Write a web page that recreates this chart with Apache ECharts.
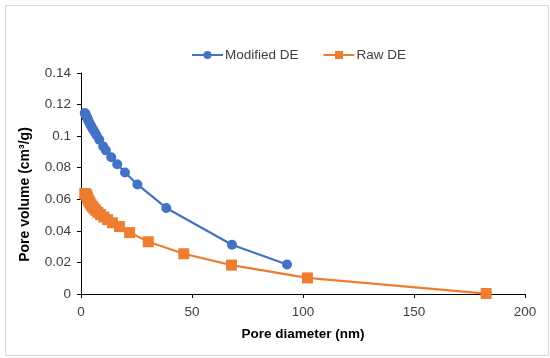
<!DOCTYPE html>
<html>
<head>
<meta charset="utf-8">
<script src="https://cdn.jsdelivr.net/npm/echarts@6/dist/echarts.min.js"></script>
<style>html,body{margin:0;padding:0;background:#fff;}#c{width:550px;height:358px;}</style>
</head>
<body>
<div id="c"></div>
<script>
var modifiedX = [1.7, 1.9, 2.1, 2.3, 2.5, 2.7, 3.0, 3.3, 3.6, 4.0, 4.4, 4.9, 5.5, 6.2, 7.0, 8.2, 10.0, 11.2, 13.6, 16.3, 19.8, 25.4, 38.4, 68.0, 92.8];
var modifiedY = [0.1147, 0.1141, 0.1135, 0.1129, 0.1123, 0.1117, 0.1108, 0.1099, 0.1090, 0.1079, 0.1068, 0.1055, 0.1040, 0.1024, 0.1006, 0.0978, 0.0935, 0.0910, 0.0866, 0.0822, 0.0770, 0.0694, 0.0545, 0.0312, 0.0187];
var rawX = [1.7, 2.0, 2.3, 2.6, 2.9, 3.2, 3.6, 4.0, 4.5, 5.1, 5.8, 6.6, 7.6, 8.8, 10.3, 12.0, 14.2, 17.3, 21.9, 30.3, 46.3, 67.8, 102.0, 182.5];
var rawY = [0.0636, 0.0634, 0.0630, 0.0622, 0.0612, 0.0600, 0.0588, 0.0577, 0.0566, 0.0555, 0.0543, 0.0531, 0.0517, 0.0503, 0.0488, 0.0471, 0.0451, 0.0427, 0.0389, 0.0331, 0.0255, 0.0183, 0.0102, 0.0003];
var seriesNames = ['Modified DE', 'Raw DE'];
var xTitle = 'Pore diameter (nm)';
var yTitle = 'Pore volume (cm³/g)';

function pairs(xs, ys) { return xs.map(function (x, i) { return [x, ys[i]]; }); }

var chart = echarts.init(document.getElementById('c'), null, { renderer: 'canvas' });
var font = 'Liberation Sans';
chart.setOption({
  animation: false,
  backgroundColor: '#fff',
  graphic: [{
    type: 'rect', left: 3, top: 3, shape: { width: 543, height: 350 },
    style: { fill: 'none', stroke: '#d9d9d9', lineWidth: 1 }, silent: true
  }],
  legend: {
    top: 43, left: 186,
    itemWidth: 31, itemHeight: 10, itemGap: 24,
    textStyle: { fontFamily: font, fontSize: 13.5, color: '#404040', padding: [0, 0, 0, -3] },
    data: seriesNames
  },
  grid: { left: 81, right: 25, top: 73, bottom: 64 },
  xAxis: {
    type: 'value', min: 0, max: 200, interval: 50,
    name: xTitle, nameLocation: 'middle', nameGap: 33,
    nameTextStyle: { fontFamily: font, fontSize: 13.5, fontWeight: 'bold', color: '#000' },
    axisLine: { lineStyle: { color: '#000', width: 1 } },
    axisTick: { show: true, length: 4, lineStyle: { color: '#000' } },
    axisLabel: { fontFamily: font, fontSize: 13.5, color: '#404040', margin: 11 },
    splitLine: { show: false }
  },
  yAxis: {
    type: 'value', min: 0, max: 0.14, interval: 0.02,
    name: yTitle, nameLocation: 'middle', nameGap: 49, nameRotate: 90,
    nameTextStyle: { fontFamily: font, fontSize: 14, fontWeight: 'bold', color: '#000', padding: [0, 22, 0, 0] },
    axisLine: { show: true, lineStyle: { color: '#000', width: 1 } },
    axisTick: { show: true, length: 4, lineStyle: { color: '#000' } },
    axisLabel: { fontFamily: font, fontSize: 13.5, color: '#404040', margin: 10,
      formatter: function (v) { return String(Math.round(v * 100) / 100); } },
    splitLine: { show: false }
  },
  series: [
    {
      name: seriesNames[0], type: 'line', data: pairs(modifiedX, modifiedY),
      symbol: 'circle', symbolSize: 10,
      lineStyle: { color: '#4472C4', width: 2.25 },
      itemStyle: { color: '#4472C4' }
    },
    {
      name: seriesNames[1], type: 'line', data: pairs(rawX, rawY),
      symbol: 'rect', symbolSize: 11,
      lineStyle: { color: '#ED7D31', width: 2.25 },
      itemStyle: { color: '#ED7D31' }
    }
  ]
});
</script>
</body>
</html>
